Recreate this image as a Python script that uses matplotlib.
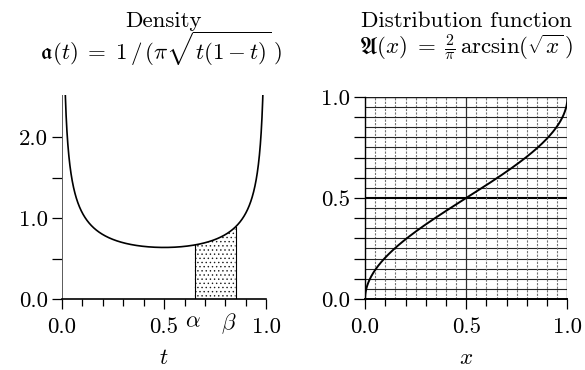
import numpy as np
import matplotlib
matplotlib.use("Agg")
import matplotlib.pyplot as plt
from matplotlib.transforms import blended_transform_factory

plt.rcParams["font.family"] = "serif"
plt.rcParams["font.serif"] = ["cmr10", "DejaVu Serif"]
plt.rcParams["mathtext.fontset"] = "cm"
plt.rcParams["axes.unicode_minus"] = False
plt.rcParams["axes.formatter.use_mathtext"] = True
plt.rcParams["hatch.linewidth"] = 0.5

# ── values ─────────────────────────────────────────────────────────────
ALPHA, BETA = 0.65, 0.85           # shaded interval on the density
DENS_YMAX = 2.52
DENS_YTICKS = [0.0, 0.5, 1.0, 1.5, 2.0]
DENS_YLABELS = ["0.0", "", "1.0", "", "2.0"]
X_MAJOR = [0.0, 0.5, 1.0]
X_MAJOR_LABELS = ["0.0", "0.5", "1.0"]
X_MINOR = [0.1, 0.2, 0.3, 0.4, 0.6, 0.7, 0.8, 0.9]
CDF_YTICKS = [0.0, 0.1, 0.2, 0.3, 0.4, 0.5, 0.6, 0.7, 0.8, 0.9, 1.0]
CDF_YLABELS = ["0.0", "", "", "", "", "0.5", "", "", "", "", "1.0"]
GRID_STEPS = [i * 0.05 for i in range(21)]

# curves from the formulas printed in the titles
t = np.linspace(1e-4, 1 - 1e-4, 2000)
density = 1.0 / (np.pi * np.sqrt(t * (1 - t)))
x = np.linspace(0, 1, 1000)
cdf = 2.0 / np.pi * np.arcsin(np.sqrt(x))

FS = 16.5

fig = plt.figure(figsize=(5.85, 3.70), dpi=100)
fig.patch.set_facecolor("white")

# ── left: density ─────────────────────────────────────────────────────
ax1 = fig.add_axes([0.106, 0.192, 0.349, 0.551])
ax1.plot(t, density, color="black", lw=1.2, zorder=4)
ax1.set_xlim(0, 1)
ax1.set_ylim(0, DENS_YMAX)

ts = t[(t >= ALPHA) & (t <= BETA)]
ds = 1.0 / (np.pi * np.sqrt(ts * (1 - ts)))
ax1.fill_between(ts, 0, ds, facecolor="white", edgecolor="0.1",
                 hatch="....", linewidth=0, zorder=2)
for v in (ALPHA, BETA):
    ax1.plot([v, v], [0, 1.0 / (np.pi * np.sqrt(v * (1 - v)))],
             color="black", lw=0.8, zorder=3)
ax1.plot([1, 1], [0, DENS_YMAX], color="0.35", lw=0.7, zorder=3)

for s in ["top", "right"]:
    ax1.spines[s].set_visible(False)
ax1.spines["left"].set_color("0.35")
ax1.spines["left"].set_linewidth(0.7)
ax1.spines["bottom"].set_linewidth(1.2)

ax1.set_yticks(DENS_YTICKS)
ax1.set_yticklabels(DENS_YLABELS)
ax1.set_xticks(X_MAJOR)
ax1.set_xticklabels(X_MAJOR_LABELS)
ax1.set_xticks(X_MINOR, minor=True)
ax1.tick_params(axis="y", length=7, width=0.9, labelsize=FS, pad=3)
ax1.tick_params(axis="x", which="major", length=7.5, width=0.9,
                labelsize=FS, pad=6)
ax1.tick_params(axis="x", which="minor", length=5, width=0.9)

trans = blended_transform_factory(ax1.transData, ax1.transAxes)
ax1.text(ALPHA - 0.01, -0.063, r"$\alpha$", transform=trans,
         ha="center", va="top", fontsize=FS)
ax1.text(BETA - 0.035, -0.063, r"$\beta$", transform=trans,
         ha="center", va="top", fontsize=FS)
ax1.set_xlabel(r"$t$", fontsize=FS, labelpad=8)

# ── right: distribution function ──────────────────────────────────────
ax2 = fig.add_axes([0.624, 0.192, 0.346, 0.546])
for g in GRID_STEPS:
    if abs(g - 0.5) < 1e-9:
        ax2.axhline(g, color="black", lw=1.5, zorder=1)
        ax2.axvline(g, color="0.2", lw=0.9, zorder=1)
    else:
        ax2.axhline(g, color="0.15", lw=0.8, zorder=1)
        ax2.axvline(g, color="0.45", lw=0.8, ls=(0, (2.0, 1.2)), zorder=1)
ax2.axvline(1.0, color="0.1", lw=0.9, zorder=1)
ax2.axhline(1.0, color="0.1", lw=1.0, zorder=1)
ax2.plot(x, cdf, color="black", lw=1.4, zorder=4)
ax2.set_xlim(0, 1)
ax2.set_ylim(0, 1)

for s in ["top", "right"]:
    ax2.spines[s].set_visible(False)
ax2.spines["left"].set_linewidth(1.0)
ax2.spines["bottom"].set_linewidth(1.4)

ax2.set_yticks(CDF_YTICKS)
ax2.set_yticklabels(CDF_YLABELS)
ax2.set_xticks(X_MAJOR)
ax2.set_xticklabels(X_MAJOR_LABELS)
ax2.set_xticks(X_MINOR, minor=True)
ax2.tick_params(axis="y", length=8, width=0.9, labelsize=FS, pad=3)
ax2.tick_params(axis="x", which="major", length=7.5, width=0.9,
                labelsize=FS, pad=6)
ax2.tick_params(axis="x", which="minor", length=5, width=0.9)
ax2.set_xlabel(r"$x$", fontsize=FS, labelpad=8)

# ── titles ────────────────────────────────────────────────────────────
fig.text(0.28, 0.942, "Density", ha="center", va="center", fontsize=FS)
fig.text(0.275, 0.868,
         r"$\mathfrak{a}(t)\;=\;1\,/\,(\pi\sqrt{t(1-t)}\,)$",
         ha="center", va="center", fontsize=FS)
fig.text(0.797, 0.942, "Distribution function", ha="center", va="center",
         fontsize=FS)
fig.text(0.797, 0.872,
         r"$\mathfrak{A}(x)\;=\;\frac{2}{\pi}\,\arcsin(\sqrt{x}\,)$",
         ha="center", va="center", fontsize=FS)

fig.savefig("out.png", dpi=100, facecolor="white")
